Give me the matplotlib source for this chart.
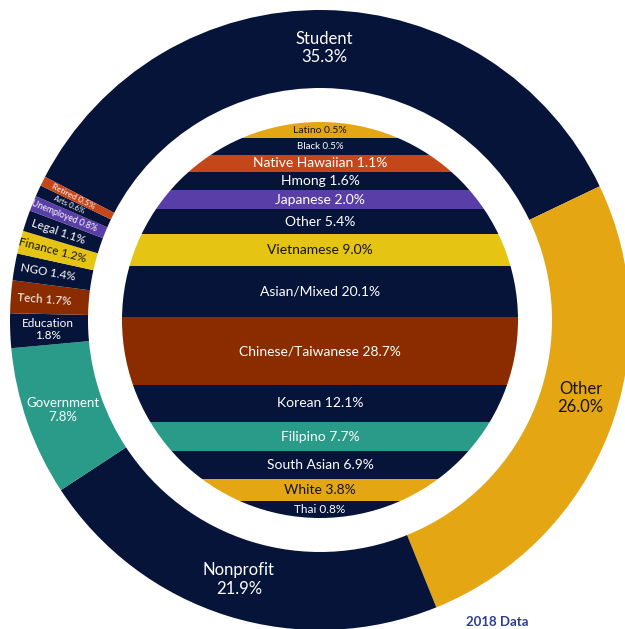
import numpy as np
import matplotlib.pyplot as plt
from matplotlib.patches import Circle

plt.rcParams['font.family'] = ['Lato', 'DejaVu Sans']

# outer ring: occupation (clockwise from the top-left)
occ_names = ['Student', 'Other', 'Nonprofit', 'Government', 'Education', 'Tech',
             'NGO', 'Finance', 'Legal', 'Unemployed', 'Arts', 'Retired']
occ_share = [35.3, 26.0, 21.9, 7.8, 1.8, 1.7, 1.4, 1.2, 1.1, 0.8, 0.6, 0.5]

# inner circle: ethnicity (top to bottom)
eth_names = ['Latino', 'Black', 'Native Hawaiian', 'Hmong', 'Japanese', 'Other',
             'Vietnamese', 'Asian/Mixed', 'Chinese/Taiwanese', 'Korean', 'Filipino',
             'South Asian', 'White', 'Thai']
eth_share = [0.5, 0.5, 1.1, 1.6, 2.0, 5.4, 9.0, 20.1, 28.7, 12.1, 7.7, 6.9, 3.8, 0.8]

NAVY = '#06143A'
GOLD = '#E5A614'
YELLOW = '#E6C414'
TEAL = '#2A9B89'
RUST = '#8A2C00'
RED = '#C4471A'
PURPLE = '#5A3EA8'
DARK_TXT = '#141414'

occ_colors = [NAVY, GOLD, NAVY, TEAL, NAVY, RUST, NAVY, YELLOW, NAVY, PURPLE, NAVY, RED]
eth_colors = [GOLD, NAVY, RED, NAVY, PURPLE, NAVY, YELLOW, NAVY, RUST, NAVY, TEAL,
              NAVY, GOLD, NAVY]

# text sizes (pt)
occ_fontsize = [12, 12, 12, 9.5, 8.5, 8.5, 8.5, 8.5, 8.5, 6.2, 5.6, 6.0]
eth_fontsize = [7.5, 7, 10, 10, 10, 10, 10, 10, 10, 10, 10, 10, 10, 8.5]

R_OUT = 310
RING_W = 78
R_IN = 198
START = 152.5

fig = plt.figure(figsize=(6.25, 6.29), dpi=100)
ax = fig.add_axes([0, 0, 1, 1])

ax.pie(occ_share, radius=R_OUT, startangle=START, counterclock=False,
       colors=occ_colors, wedgeprops=dict(width=RING_W, linewidth=0))

# outer labels
frac = np.array(occ_share) / sum(occ_share)
ends = START - np.cumsum(frac) * 360
mids = ends + frac * 180
two_line = ['Student', 'Other', 'Nonprofit', 'Government', 'Education']
nudge = {'Other': 4.5}  # keep the label inside the visible part of the ring
for name, val, ang, col, fs in zip(occ_names, occ_share, mids, occ_colors, occ_fontsize):
    tc = DARK_TXT if col in (GOLD, YELLOW) else 'white'
    a = np.deg2rad(ang + nudge.get(name, 0))
    if name in two_line:
        r = 272
        ax.text(r * np.cos(a), r * np.sin(a), f'{name}\n{val:.1f}%', ha='center',
                va='center', color=tc, fontsize=fs, linespacing=1.2)
    else:
        r = 276
        ax.text(r * np.cos(a), r * np.sin(a), f'{name} {val:.1f}%', ha='center',
                va='center', color=tc, fontsize=fs, rotation=ang - 180,
                rotation_mode='anchor')

# inner stripes: height grows with share, plus a floor so thin groups stay readable
w = np.array(eth_share) + 8.5
heights = w / w.sum() * 2 * R_IN
centers = R_IN - (np.cumsum(heights) - heights / 2)
clip = Circle((0, 0), R_IN, transform=ax.transData)
bars = ax.barh(centers, 2 * R_IN, left=-R_IN, height=heights, color=eth_colors,
               linewidth=0)
for b in bars:
    b.set_clip_path(clip)

for name, val, y, col, fs in zip(eth_names, eth_share, centers, eth_colors, eth_fontsize):
    tc = DARK_TXT if col in (GOLD, YELLOW) else 'white'
    ax.text(0, y, f'{name} {val:.1f}%', ha='center', va='center', color=tc,
            fontsize=fs)

ax.text(177, -302, '2018 Data', ha='center', va='center', color='#2B3F8F',
        fontsize=9.5, fontweight='bold')

ax.set_xlim(-320, 305)
ax.set_ylim(-309, 320)
ax.set_aspect('equal')
ax.axis('off')

plt.savefig('out.png', dpi=100)
